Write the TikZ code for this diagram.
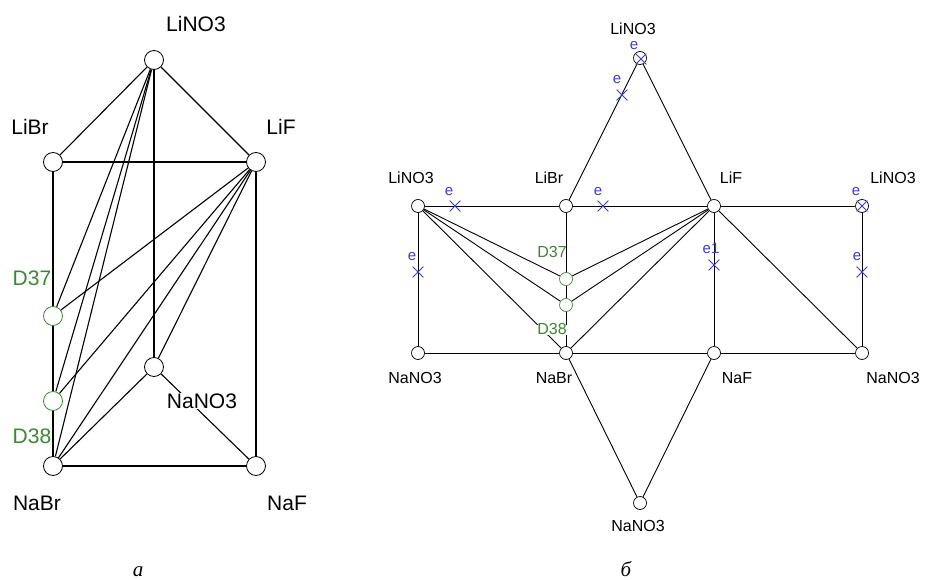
\documentclass[tikz,border=0pt]{standalone}
\usepackage{fontspec}
\setmainfont{Liberation Sans}
\newfontfamily\capfont{Liberation Serif}
\usetikzlibrary{shapes.misc}
\pgfdeclarelayer{background}
\pgfsetlayers{background,main}
\definecolor{dgreen}{RGB}{60,135,50}
\definecolor{eblue}{RGB}{60,60,200}
\begin{document}
\begin{tikzpicture}[x=1pt,y=-1pt,
 vA/.style={circle,draw,fill=white,minimum size=19pt,inner sep=0pt,line width=0.8pt},
 vB/.style={circle,draw,fill=white,minimum size=13pt,inner sep=0pt,line width=0.7pt},
 gA/.style={vA,draw=dgreen},
 gB/.style={vB,draw=dgreen},
 labA/.style={inner sep=1pt,font=\fontsize{21}{24}\selectfont},
 labB/.style={inner sep=1pt,text height=1.6ex,text depth=0pt,font=\fontsize{16}{18}\selectfont},
 glabA/.style={labA,text=dgreen},
 glabB/.style={labB,text=dgreen},
 edgeA/.style={line width=1.1pt},
 edgeB/.style={line width=0.9pt},
 xmark/.style={cross out,draw=eblue,minimum size=10pt,inner sep=0pt,line width=0.8pt},
 elab/.style={text=eblue,inner sep=0pt,text height=1.5ex,text depth=0pt,font=\fontsize{15}{16}\selectfont},
 captext/.style={anchor=base,inner sep=0pt,font=\capfont\itshape\fontsize{21}{24}\selectfont}]
\useasboundingbox (0,0) rectangle (925,580);

% ---------- diagram a ----------
\node[vA] (aLiNO3) at (154,60) {};
\node[vA] (aLiBr) at (53,162) {};
\node[vA] (aLiF) at (256,162) {};
\node[gA] (aD37) at (53,316) {};
\node[gA] (aD38) at (53,401) {};
\node[vA] (aNaNO3) at (154,367) {};
\node[vA] (aNaBr) at (53,466) {};
\node[vA] (aNaF) at (256,466) {};

\node[labA] (laLiNO3) at (196,24) {LiNO3};
\node[labA] (laLiBr) at (30,127) {LiBr};
\node[labA] (laLiF) at (281,127) {LiF};
\node[glabA] (laD37) at (32,278) {D37};
\node[glabA] (laD38) at (32,436) {D38};
\node[labA] (laNaBr) at (37,503) {NaBr};
\node[labA] (laNaF) at (287,503) {NaF};
\node[labA,fill=white] (laNaNO3) at (202,401) {NaNO3};
\node[captext] (capa) at (138,576) {а};

\begin{pgfonlayer}{background}
\draw[edgeA] (aLiNO3) -- (aLiBr);
\draw[edgeA] (aLiNO3) -- (aLiF);
\draw[edgeA] (aLiNO3) -- (aNaNO3);
\draw[edgeA] (aLiBr) -- (aLiF);
\draw[edgeA] (aLiBr) -- (aD37);
\draw[edgeA] (aD37) -- (aD38);
\draw[edgeA] (aD38) -- (aNaBr);
\draw[edgeA] (aLiF) -- (aNaF);
\draw[edgeA] (aNaBr) -- (aNaF);
\draw[edgeA] (aNaNO3) -- (aNaF);
\draw[edgeA] (aNaNO3) -- (aNaBr);
\draw[edgeA] (aLiNO3) -- (aD37);
\draw[edgeA] (aLiNO3) -- (aD38);
\draw[edgeA] (aLiNO3) -- (aNaBr);
\draw[edgeA] (aLiF) -- (aD37);
\draw[edgeA] (aLiF) -- (aD38);
\draw[edgeA] (aLiF) -- (aNaBr);
\draw[edgeA] (aLiF) -- (aNaNO3);
\end{pgfonlayer}

% ---------- diagram b ----------
\node[vB] (bLiNO3t) at (640,58) {};
\node[vB] (bLiNO3L) at (418,206) {};
\node[vB] (bLiBr) at (566,206) {};
\node[vB] (bLiF) at (714,206) {};
\node[vB] (bLiNO3R) at (862,206) {};
\node[vB] (bNaNO3L) at (418,353) {};
\node[vB] (bNaBr) at (566,353) {};
\node[vB] (bNaF) at (714,353) {};
\node[vB] (bNaNO3R) at (862,353) {};
\node[vB] (bNaNO3b) at (640,503) {};
\node[gB] (bD37) at (566,279) {};
\node[gB] (bD38) at (566,305) {};

\node[labB] (lbLiNO3t) at (633,30) {LiNO3};
\node[labB] (lbLiNO3L) at (411,179) {LiNO3};
\node[labB] (lbLiBr) at (549,179) {LiBr};
\node[labB] (lbLiF) at (731,179) {LiF};
\node[labB] (lbLiNO3R) at (893,179) {LiNO3};
\node[labB] (lbNaNO3L) at (415,379) {NaNO3};
\node[labB] (lbNaBr) at (554,379) {NaBr};
\node[labB] (lbNaF) at (737,379) {NaF};
\node[labB] (lbNaNO3R) at (893,379) {NaNO3};
\node[labB] (lbNaNO3b) at (638,527) {NaNO3};
\node[glabB] (lbD37) at (552,253) {D37};
\node[glabB,fill=white] (lbD38) at (552,330) {D38};
\node[captext] (capb) at (626,576) {б};

% e markers
\node[xmark] (x1) at (641,59) {};
\node[elab] (e1) at (634,46) {e};
\node[xmark] (x2) at (622,95) {};
\node[elab] (e2) at (617,80) {e};
\node[xmark] (x3) at (455,206) {};
\node[elab] (e3) at (449,192) {e};
\node[xmark] (x4) at (603,206) {};
\node[elab] (e4) at (598,192) {e};
\node[xmark] (x5) at (418,272) {};
\node[elab] (e5) at (412,257) {e};
\node[xmark] (x6) at (714,265) {};
\node[elab] (e6) at (711,250) {e1};
\node[xmark] (x7) at (862,206) {};
\node[elab] (e7) at (856,192) {e};
\node[xmark] (x8) at (862,272) {};
\node[elab] (e8) at (857,257) {e};

\begin{pgfonlayer}{background}
\draw[edgeB] (bLiNO3t) -- (bLiBr);
\draw[edgeB] (bLiNO3t) -- (bLiF);
\draw[edgeB] (bLiNO3L) -- (bLiBr);
\draw[edgeB] (bLiBr) -- (bLiF);
\draw[edgeB] (bLiF) -- (bLiNO3R);
\draw[edgeB] (bNaNO3L) -- (bNaBr);
\draw[edgeB] (bNaBr) -- (bNaF);
\draw[edgeB] (bNaF) -- (bNaNO3R);
\draw[edgeB] (bLiNO3L) -- (bNaNO3L);
\draw[edgeB] (bLiBr) -- (bD37);
\draw[edgeB] (bD37) -- (bD38);
\draw[edgeB] (bD38) -- (bNaBr);
\draw[edgeB] (bLiF) -- (bNaF);
\draw[edgeB] (bLiNO3R) -- (bNaNO3R);
\draw[edgeB] (bNaBr) -- (bNaNO3b);
\draw[edgeB] (bNaF) -- (bNaNO3b);
\draw[edgeB] (bLiNO3L) -- (bD37);
\draw[edgeB] (bLiNO3L) -- (bD38);
\draw[edgeB] (bLiNO3L) -- (bNaBr);
\draw[edgeB] (bLiF) -- (bD37);
\draw[edgeB] (bLiF) -- (bD38);
\draw[edgeB] (bLiF) -- (bNaBr);
\draw[edgeB] (bLiF) -- (bNaNO3R);
\end{pgfonlayer}
\end{tikzpicture}
\end{document}
